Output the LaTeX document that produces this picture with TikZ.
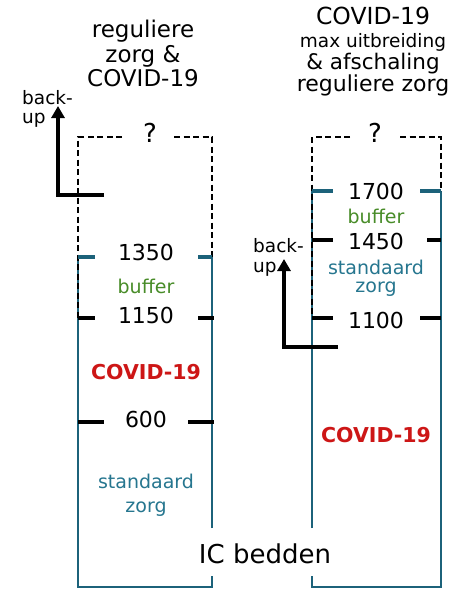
\documentclass[tikz,border=0pt]{standalone}
\usepackage{fontspec}
\setmainfont{DejaVu Sans}
\usetikzlibrary{arrows.meta}
\definecolor{tealline}{RGB}{28,98,122}
\definecolor{tealtext}{RGB}{38,118,143}
\definecolor{buffgreen}{RGB}{72,140,40}
\definecolor{covred}{RGB}{205,22,22}
\tikzset{
  fs/.style={font=\fontsize{#1}{#1}\selectfont},
  txt/.style={inner sep=0pt, anchor=base},
  colline/.style={draw=tealline, line width=2.6pt},
  dashline/.style={draw=black, line width=2.2pt, dash pattern=on 6pt off 3.5pt},
  tickb/.style={draw=black, line width=3.2pt},
  tickt/.style={draw=tealline, line width=3.2pt},
  backarrow/.style={draw=black, line width=4pt, -{Triangle[length=12pt,width=13pt]}},
  num/.style={txt, fs=22},
  lbl/.style={txt, fs=19},
  covlbl/.style={txt, text=covred, font=\fontsize{20.5}{20.5}\selectfont\bfseries},
}
\begin{document}
\begin{tikzpicture}[x=1pt,y=-1pt]
\useasboundingbox (0,0) rectangle (457,592);
\fill[white] (0,0) rectangle (457,592);

% ---------- titles ----------
\node[txt, fs=23] (t1a) at (143,37) {reguliere};
\node[txt, fs=23] (t1b) at (143,62) {zorg \&};
\node[txt, fs=23] (t1c) at (143,86) {COVID-19};

\node[txt, fs=23.5] (t2a) at (373,24) {COVID-19};
\node[txt, fs=18.5] (t2b) at (373,47) {max uitbreiding};
\node[txt, fs=21.5] (t2c) at (373,69) {\& afschaling};
\node[txt, fs=22] (t2d) at (373,91) {reguliere zorg};

% ---------- left column ----------
\draw[colline] (78,257) -- (78,587) -- (212,587) -- (212,576);
\draw[colline] (212,528) -- (212,257);
\draw[dashline] (122,137) -- (78,137) -- (78,318);
\draw[dashline] (174,137) -- (212,137) -- (212,257);
\node[txt, fs=26] (q1) at (150,142) {?};

\draw[tickt] (78,257) -- (95,257);
\draw[tickt] (198,257) -- (212,257);
\draw[tickb] (78,318) -- (95,318);
\draw[tickb] (198,318) -- (214,318);
\draw[tickb] (78,422) -- (104,422);
\draw[tickb] (188,422) -- (214,422);

\node[num] (n1350) at (146,260) {1350};
\node[lbl, text=buffgreen] (buf1) at (146,293) {buffer};
\node[num] (n1150) at (146,323) {1150};
\node[covlbl] (cov1) at (146,379) {COVID-19};
\node[num] (n600) at (146,427) {600};
\node[lbl, text=tealtext] (std1) at (146,488) {standaard};
\node[lbl, text=tealtext] (zrg1) at (146,512) {zorg};

% ---------- right column ----------
\draw[colline] (441,191) -- (441,587) -- (312,587) -- (312,576);
\draw[colline] (312,528) -- (312,191);
\draw[dashline] (350,137) -- (312,137) -- (312,316);
\draw[dashline] (400,137) -- (441,137) -- (441,191);
\node[txt, fs=26] (q2) at (375,142) {?};

\draw[tickt] (312,191) -- (333,191);
\draw[tickt] (420,191) -- (441,191);
\draw[tickb] (312,240) -- (333,240);
\draw[tickb] (427,240) -- (441,240);
\draw[tickb] (312,318) -- (333,318);
\draw[tickb] (420,318) -- (441,318);

\node[num] (n1700) at (376,199) {1700};
\node[lbl, text=buffgreen] (buf2) at (376,223) {buffer};
\node[num] (n1450) at (376,249) {1450};
\node[lbl, text=tealtext] (std2) at (376,274) {standaard};
\node[lbl, text=tealtext] (zrg2) at (376,292) {zorg};
\node[num] (n1100) at (376,328) {1100};
\node[covlbl] (cov2) at (376,442) {COVID-19};

% ---------- IC bedden ----------
\node[txt, fs=26] (ic) at (265,563) {IC bedden};

% ---------- back-up arrows ----------
\node[txt, fs=18.5, anchor=base west] (bu1a) at (22,104) {back-};
\node[txt, fs=18.5, anchor=base west] (bu1b) at (22,123) {up};
\coordinate (a1s) at (104,195);
\coordinate (a1c) at (58,195);
\coordinate (a1e) at (58,106);
\draw[backarrow] (a1s) -- (a1c) -- (a1e);

\node[txt, fs=18.5, anchor=base west] (bu2a) at (253,252) {back-};
\node[txt, fs=18.5, anchor=base west] (bu2b) at (253,272) {up};
\coordinate (a2s) at (338,347);
\coordinate (a2c) at (284,347);
\coordinate (a2e) at (284,259);
\draw[backarrow] (a2s) -- (a2c) -- (a2e);
\end{tikzpicture}
\end{document}
